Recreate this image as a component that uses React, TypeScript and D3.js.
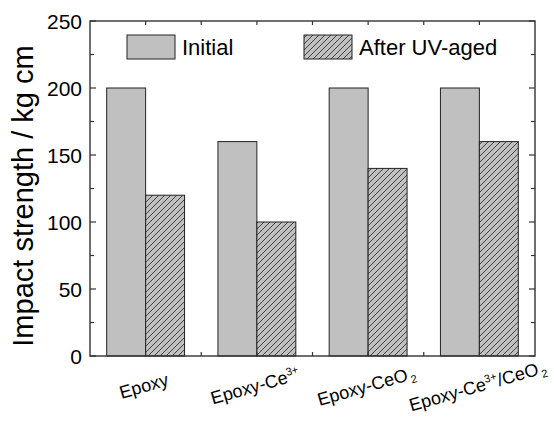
import React from "react";
import * as d3 from "d3";

const categories = ["Epoxy", "Epoxy-Ce3+", "Epoxy-CeO2", "Epoxy-Ce3+/CeO2"];
const initialValues = [200, 160, 200, 200];
const agedValues = [120, 100, 140, 160];
const yMajorTicks = [0, 50, 100, 150, 200, 250];
const yMinorTicks = [25, 75, 125, 175, 225];
const seriesNames = ["Initial", "After UV-aged"];

const W = 554;
const H = 429;
const M = { left: 90, right: 535, top: 21, bottom: 356 };
const FONT = "'Liberation Sans', Arial, Helvetica, sans-serif";
const AXIS = "#333";

function Label({ name, x, y }: { name: string; x: number; y: number }) {
  const sup = { fontSize: 11 };
  const sub = { fontSize: 11 };
  let content: React.ReactNode;
  if (name === "Epoxy") content = "Epoxy";
  else if (name === "Epoxy-Ce3+")
    content = (
      <>
        <tspan>Epoxy-Ce</tspan>
        <tspan dy={-7} style={sup}>3+</tspan>
      </>
    );
  else if (name === "Epoxy-CeO2")
    content = (
      <>
        <tspan>Epoxy-CeO</tspan>
        <tspan dx={2} dy={4} style={sub}>2</tspan>
      </>
    );
  else
    content = (
      <>
        <tspan>Epoxy-Ce</tspan>
        <tspan dy={-7} style={sup}>3+</tspan>
        <tspan dy={7}>/CeO</tspan>
        <tspan dx={2} dy={4} style={sub}>2</tspan>
      </>
    );
  return (
    <text
      x={x}
      y={y}
      textAnchor="middle"
      fontSize={18}
      fontFamily={FONT}
      fill="#000"
      transform={`rotate(-16, ${x}, ${y})`}
    >
      {content}
    </text>
  );
}

export default function App() {
  const x = d3.scaleBand<string>().domain(categories).range([M.left, M.right]).padding(0);
  const y = d3.scaleLinear().domain([0, 250]).range([M.bottom, M.top]);
  const bw = x.bandwidth() * 0.35;
  const center = (c: string) => (x(c) as number) + x.bandwidth() / 2;
  const boundaries = categories.slice(1).map((c) => x(c) as number);

  return (
    <svg
      width={W}
      height={H}
      style={{ position: "absolute", left: 0, top: 0, display: "block", background: "#fff" }}
    >
      <defs>
        <pattern id="hatch" patternUnits="userSpaceOnUse" width={6} height={6}>
          <rect width={6} height={6} fill="#c0c0c0" />
          <path d="M0,6 L6,0 M-1,1 L1,-1 M5,7 L7,5" stroke="#333" strokeWidth={0.9} />
        </pattern>
      </defs>
      <rect x={0} y={0} width={W} height={H} fill="#fff" />

      {categories.map((c, i) => (
        <g key={c}>
          <rect
            x={center(c) - bw}
            y={y(initialValues[i])}
            width={bw}
            height={y(0) - y(initialValues[i])}
            fill="#c0c0c0"
            stroke="#222"
            strokeWidth={1}
          />
          <rect
            x={center(c)}
            y={y(agedValues[i])}
            width={bw}
            height={y(0) - y(agedValues[i])}
            fill="url(#hatch)"
            stroke="#222"
            strokeWidth={1}
          />
        </g>
      ))}

      {/* frame */}
      <rect
        x={M.left}
        y={M.top}
        width={M.right - M.left}
        height={M.bottom - M.top}
        fill="none"
        stroke={AXIS}
        strokeWidth={1.4}
      />

      {/* y ticks left and right */}
      {yMajorTicks.map((t) => (
        <g key={"M" + t}>
          <line x1={M.left} x2={M.left + 6} y1={y(t)} y2={y(t)} stroke={AXIS} strokeWidth={1.2} />
          <line x1={M.right} x2={M.right - 6} y1={y(t)} y2={y(t)} stroke={AXIS} strokeWidth={1.2} />
          <text
            x={M.left - 8}
            y={y(t)}
            dy="0.36em"
            textAnchor="end"
            fontSize={21}
            fontFamily={FONT}
            fill="#000"
          >
            {t}
          </text>
        </g>
      ))}
      {yMinorTicks.map((t) => (
        <g key={"m" + t}>
          <line x1={M.left} x2={M.left + 4} y1={y(t)} y2={y(t)} stroke={AXIS} strokeWidth={1.2} />
          <line x1={M.right} x2={M.right - 4} y1={y(t)} y2={y(t)} stroke={AXIS} strokeWidth={1.2} />
        </g>
      ))}

      {/* x ticks top and bottom */}
      {[...categories.map(center), ...boundaries].map((px, i) => (
        <g key={"x" + i}>
          <line x1={px} x2={px} y1={M.top} y2={M.top + 4} stroke={AXIS} strokeWidth={1.2} />
          <line x1={px} x2={px} y1={M.bottom} y2={M.bottom - 4} stroke={AXIS} strokeWidth={1.2} />
        </g>
      ))}

      {/* x labels */}
      {categories.map((c) => (
        <Label key={c} name={c} x={center(c)} y={392} />
      ))}

      {/* y label */}
      <text
        x={33}
        y={196}
        textAnchor="middle"
        fontSize={29}
        fontFamily={FONT}
        fill="#000"
        transform="rotate(-90, 33, 196)"
      >
        Impact strength / kg cm
      </text>

      {/* legend */}
      <rect x={127} y={35} width={48} height={24} fill="#c0c0c0" stroke="#222" strokeWidth={1} />
      <text x={182} y={55} fontSize={22} fontFamily={FONT} fill="#000">
        {seriesNames[0]}
      </text>
      <rect x={304} y={35} width={48} height={24} fill="url(#hatch)" stroke="#222" strokeWidth={1} />
      <text x={359} y={55} fontSize={22} fontFamily={FONT} fill="#000">
        {seriesNames[1]}
      </text>
    </svg>
  );
}
